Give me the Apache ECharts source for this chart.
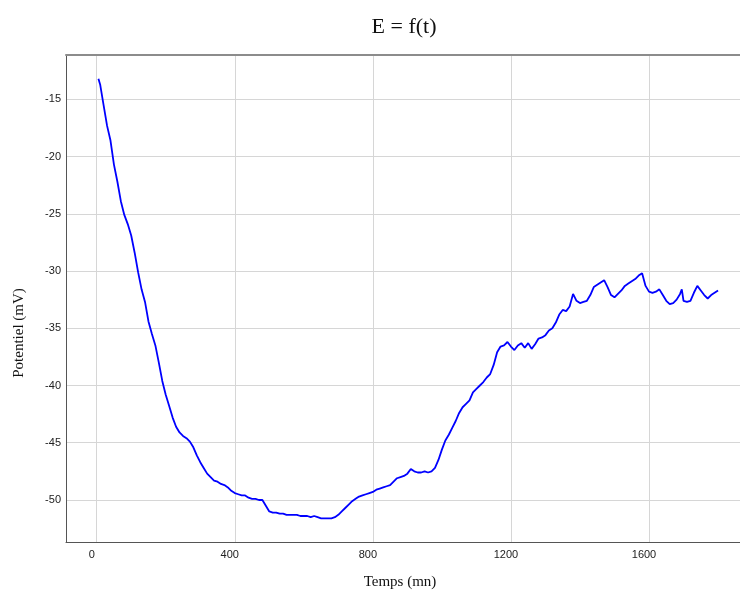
<!DOCTYPE html>
<html>
<head>
<meta charset="utf-8">
<title>E = f(t)</title>
<script src="https://cdn.jsdelivr.net/npm/echarts@6/dist/echarts.min.js"></script>
<style>
  html, body { margin: 0; padding: 0; background: #ffffff; }
  #chart { width: 740px; height: 592px; }
</style>
</head>
<body>
<div id="chart"></div>
<script>
// Time in minutes
const times = [
  5, 10, 20, 30, 40, 50, 60, 70, 80, 90,
  100, 110, 120, 130, 140, 150, 160, 170, 180, 190,
  200, 210, 220, 230, 240, 250, 260, 270, 280, 290,
  300, 310, 320, 330, 340, 350, 360, 370, 380, 390,
  400, 410, 420, 430, 440, 450, 460, 470, 480, 490,
  500, 510, 520, 530, 540, 550, 560, 570, 580, 590,
  600, 610, 620, 630, 640, 650, 660, 670, 680, 690,
  700, 710, 720, 730, 740, 750, 760, 770, 780, 790,
  800, 810, 820, 830, 840, 850, 860, 870, 880, 890,
  900, 910, 920, 930, 940, 950, 960, 970, 980, 990,
  1000, 1010, 1020, 1030, 1040, 1050, 1060, 1070, 1080, 1090,
  1100, 1110, 1120, 1130, 1140, 1150, 1160, 1170, 1180, 1190,
  1200, 1210, 1220, 1230, 1240, 1250, 1260, 1270, 1280, 1290,
  1300, 1310, 1320, 1330, 1340, 1350, 1360, 1370, 1380, 1390,
  1400, 1410, 1420, 1430, 1440, 1450, 1460, 1470, 1480, 1490,
  1500, 1510, 1520, 1530, 1540, 1550, 1560, 1570, 1580, 1590,
  1600, 1610, 1620, 1630, 1640, 1650, 1660, 1670, 1680, 1690,
  1695, 1700, 1710, 1720, 1730, 1740, 1750, 1760, 1770, 1780,
  1790, 1800
];

// Measured potential in mV
const potentials = [
  -13.2, -13.7, -15.5, -17.3, -18.6, -20.7, -22.2, -23.9, -25.1, -25.9,
  -26.9, -28.4, -30.1, -31.6, -32.7, -34.4, -35.5, -36.5, -38.0, -39.6,
  -40.8, -41.8, -42.8, -43.6, -44.1, -44.4, -44.6, -44.9, -45.4, -46.1,
  -46.7, -47.2, -47.7, -48.0, -48.3, -48.4, -48.6, -48.7, -48.9, -49.2,
  -49.4, -49.5, -49.6, -49.6, -49.8, -49.9, -49.9, -50.0, -50.0, -50.5,
  -51.0, -51.1, -51.1, -51.2, -51.2, -51.3, -51.3, -51.3, -51.3, -51.4,
  -51.4, -51.4, -51.5, -51.4, -51.5, -51.6, -51.6, -51.6, -51.6, -51.5,
  -51.3, -51.0, -50.7, -50.4, -50.1, -49.9, -49.7, -49.6, -49.5, -49.4,
  -49.3, -49.1, -49.0, -48.9, -48.8, -48.7, -48.4, -48.1, -48.0, -47.9,
  -47.7, -47.3, -47.5, -47.6, -47.6, -47.5, -47.6, -47.5, -47.2, -46.5,
  -45.6, -44.8, -44.3, -43.7, -43.1, -42.4, -41.9, -41.6, -41.3, -40.6,
  -40.3, -40.0, -39.7, -39.3, -39.0, -38.2, -37.1, -36.6, -36.5, -36.2,
  -36.6, -36.9, -36.5, -36.3, -36.7, -36.3, -36.8, -36.4, -35.9, -35.8,
  -35.6, -35.2, -35.0, -34.5, -33.8, -33.4, -33.5, -33.1, -32.0, -32.6,
  -32.8, -32.7, -32.6, -32.1, -31.4, -31.2, -31.0, -30.8, -31.4, -32.1,
  -32.3, -32.0, -31.7, -31.3, -31.1, -30.9, -30.7, -30.4, -30.2, -31.3,
  -31.8, -31.9, -31.8, -31.6, -32.1, -32.6, -32.9, -32.8, -32.5, -32.0,
  -31.6, -32.6, -32.7, -32.6, -31.9, -31.3, -31.7, -32.1, -32.4, -32.1,
  -31.9, -31.7
];

// Tick positions shown on each axis
const timeTicks = [0, 400, 800, 1200, 1600];
const potentialTicks = [-50, -45, -40, -35, -30, -25, -20, -15];

const points = times.map((t, i) => [t, potentials[i]]);

const sansFont = '"Liberation Sans", Arial, sans-serif';
const serifFont = '"Liberation Serif", "Times New Roman", serif';

const chart = echarts.init(document.getElementById('chart'), null, { renderer: 'canvas' });

chart.setOption({
  animation: false,
  backgroundColor: '#ffffff',
  grid: { left: 66, right: 0, top: 55, bottom: 50 },
  xAxis: [
    {
      type: 'value',
      min: -88.9,
      max: 1863.6,
      axisLine: { show: true, onZero: false, lineStyle: { color: '#555555', width: 1 } },
      axisTick: { show: false, customValues: timeTicks },
      axisLabel: {
        customValues: timeTicks,
        formatter: (v) => String(v),
        margin: 7,
        padding: [0, 10, 0, 0],
        fontFamily: sansFont,
        fontSize: 11,
        color: '#222222'
      },
      splitLine: { show: true, lineStyle: { color: '#d6d6d6', width: 1 } }
    },
    {
      type: 'value',
      position: 'top',
      min: -88.9,
      max: 1863.6,
      axisLine: { show: true, onZero: false, lineStyle: { color: '#8c8c8c', width: 2 } },
      axisTick: { show: false },
      axisLabel: { show: false },
      splitLine: { show: false }
    }
  ],
  yAxis: {
    type: 'value',
    min: -53.67,
    max: -11.13,
    axisLine: { show: true, onZero: false, lineStyle: { color: '#555555', width: 1 } },
    axisTick: { show: false, customValues: potentialTicks },
    axisLabel: {
      customValues: potentialTicks,
      formatter: (v) => String(v),
      margin: 5,
      fontFamily: sansFont,
      fontSize: 11,
      color: '#222222'
    },
    splitLine: { show: true, lineStyle: { color: '#d6d6d6', width: 1 } }
  },
  graphic: [
    {
      type: 'text',
      x: 404,
      y: 27,
      style: {
        text: 'E = f(t)',
        align: 'center',
        verticalAlign: 'middle',
        font: '22px ' + serifFont,
        fill: '#111111'
      }
    },
    {
      type: 'text',
      x: 400,
      y: 582,
      style: {
        text: 'Temps (mn)',
        align: 'center',
        verticalAlign: 'middle',
        font: '15px ' + serifFont,
        fill: '#111111'
      }
    },
    {
      type: 'text',
      x: 19,
      y: 333,
      rotation: Math.PI / 2,
      style: {
        text: 'Potentiel (mV)',
        align: 'center',
        verticalAlign: 'middle',
        font: '15px ' + serifFont,
        fill: '#111111'
      }
    }
  ],
  series: [
    {
      type: 'line',
      xAxisIndex: 0,
      data: points,
      showSymbol: false,
      symbol: 'none',
      lineStyle: { color: '#0000ff', width: 1.8 },
      silent: true
    }
  ]
});
</script>
</body>
</html>
